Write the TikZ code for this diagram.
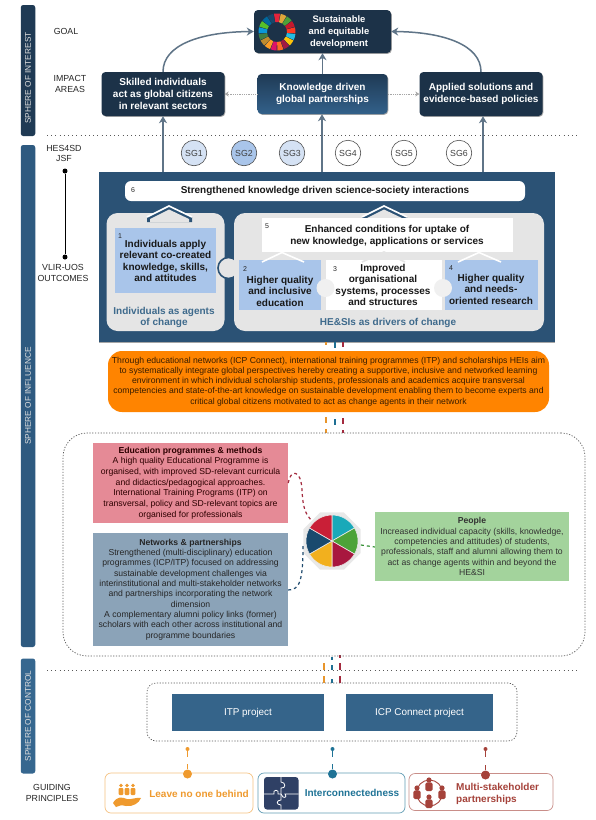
\documentclass[tikz,border=0pt]{standalone}
\usepackage{fontspec}
\setmainfont{Liberation Sans}
\usetikzlibrary{arrows.meta,shapes.geometric,calc}
\definecolor{darkbox}{HTML}{1C3248}
\definecolor{midtop}{HTML}{1F3A55}
\definecolor{midbot}{HTML}{33618A}
\definecolor{mainblue}{HTML}{2B5275}
\definecolor{barinterest}{HTML}{1F3A54}
\definecolor{barinfluence}{HTML}{2E5A80}
\definecolor{barcontrol}{HTML}{36678F}
\definecolor{projblue}{HTML}{35648A}
\definecolor{arrowgrey}{HTML}{5F7487}
\definecolor{paleblue}{HTML}{A9C5EA}
\definecolor{sgone}{HTML}{D5E2F4}
\definecolor{panel}{HTML}{E5E5E5}
\definecolor{pillorange}{HTML}{FF8400}
\definecolor{roseb}{HTML}{E58A96}
\definecolor{slateb}{HTML}{8BA3B8}
\definecolor{greenb}{HTML}{A3D39C}
\definecolor{gporange}{HTML}{EF9A2E}
\definecolor{gpteal}{HTML}{1F7396}
\definecolor{gpred}{HTML}{A5423A}
\definecolor{labelblue}{HTML}{3E6A8C}
\definecolor{fragorange}{HTML}{E8952B}
\definecolor{fragteal}{HTML}{1F6F93}
\definecolor{fragred}{HTML}{A32A3E}
\definecolor{puzzle}{HTML}{2F4065}
\definecolor{navyd}{HTML}{1F4A6E}
\tikzset{
  x=1pt,y=-1pt,
  lab/.style={font=\fontsize{8.8}{10.5}\selectfont,align=center,text=black!85,inner sep=0pt},
  spherebar/.style={rounded corners=2.5pt,anchor=center,inner sep=0pt,text=white!88!black,
     font=\fontsize{8.3}{10}\selectfont,rotate=90},
  impact/.style={draw=none,rounded corners=4pt,inner sep=0pt,align=center,text=white,
     font=\bfseries\fontsize{10}{11.6}\selectfont,
     preaction={fill=black!35,transform canvas={xshift=.8pt,yshift=-.8pt}}},
  flow/.style={draw=arrowgrey,line width=1.5pt,-{Stealth[length=7pt,width=8pt,inset=2.2pt]}},
  dotflow/.style={draw=black!35,line width=.8pt,densely dotted,-{Stealth[length=4pt,width=5pt]}},
  sg/.style={circle,draw=black!70,line width=.6pt,minimum size=25.5pt,inner sep=0pt,
     font=\fontsize{8.8}{10}\selectfont,text=black!75},
  ptext/.style={inner sep=0pt,align=center,font=\bfseries\fontsize{10}{11.5}\selectfont,text=black!90},
  num/.style={inner sep=0pt,font=\fontsize{7}{8}\selectfont,text=black!85},
  chev/.style={draw=white,line width=1.6pt,fill=none,line join=miter},
  sepdots/.style={draw=black!65,line width=.9pt,dash pattern=on 1pt off 3.2pt},
  dotframe/.style={draw=black!65,line width=.7pt,dash pattern=on 1.2pt off 1.6pt,rounded corners=14pt,inner sep=0pt},
  info/.style={inner sep=0pt,align=center,font=\fontsize{8.65}{10.3}\selectfont,text=black!80},
  gpbox/.style={rounded corners=6pt,line width=.7pt,fill=white,inner sep=0pt},
  gptext/.style={inner sep=0pt,font=\bfseries\fontsize{10}{12}\selectfont,align=left},
  gpdot/.style={circle,inner sep=0pt,minimum size=9pt},
}
\newcommand{\fragm}[5]{%
  \coordinate (#5a) at (#2,#3);\coordinate (#5b) at (#2,#4);
  \draw[#1,line width=1.3pt] (#5a) -- (#5b);}
\begin{document}
\begin{tikzpicture}
\useasboundingbox (0,0) rectangle (595,820);
\fill[white] (0,0) rectangle (595,820);

% sphere bars
\node[spherebar,fill=barinterest,minimum width=131pt,minimum height=14.5pt] (barI) at (28,70.5) {};
\node[spherebar,fill=none] (barIt) at (28,78) {SPHERE OF INTEREST};
\node[spherebar,fill=barinfluence,minimum width=502pt,minimum height=14.5pt] (barF) at (28,396) {SPHERE OF INFLUENCE};
\node[spherebar,fill=barcontrol,minimum width=115pt,minimum height=14.5pt] (barC) at (28,716) {SPHERE OF CONTROL};

% separators
\coordinate (sepAl) at (47,135); \coordinate (sepAr) at (580,135);
\coordinate (sepBl) at (47,670); \coordinate (sepBr) at (580,670);
\draw[sepdots] (sepAl) -- (sepAr);
\draw[sepdots] (sepBl) -- (sepBr);

% side labels
\node[lab] (lgoal) at (66,31) {GOAL};
\node[lab] (limpact) at (70,84) {IMPACT\\[0pt]AREAS};
\node[lab] (lhes) at (64,153.5) {HES4SD\\[0pt]JSF};
\node[lab] (lvlir) at (63,273) {VLIR-UOS\\[0pt]OUTCOMES};
\node[lab] (lguide) at (52,793) {GUIDING\\[0pt]PRINCIPLES};
\node[circle,fill=black,inner sep=0pt,minimum size=5pt] (ja) at (65,171) {};
\node[circle,fill=black,inner sep=0pt,minimum size=5pt] (jb) at (65,257) {};
\draw[line width=1pt] (ja) -- (jb);

% main outcome panel
\node[fill=mainblue,minimum width=456pt,minimum height=170pt,inner sep=0pt,
   preaction={fill=black!35,transform canvas={xshift=.8pt,yshift=-.8pt}}] (main) at (326.5,257) {};

% goal + impact
\node[impact,fill=darkbox,minimum width=137pt,minimum height=43pt] (goal) at (322.5,31.5) {};
\node[inner sep=0pt,align=center,text=white,font=\bfseries\fontsize{9.4}{11.6}\selectfont] (goalt) at (339,32) {Sustainable\\and equitable\\development};
\begin{scope}[shift={(277,32)}]
\foreach \c [count=\i from 0] in {E5243B,DDA63A,4C9F38,C5192D,FF3A21,26BDE2,FCC30B,A21942,FD6925,DD1367,FD9D24,BF8B2E,3F7E44,0A97D9,56C02B,00689D,19486A}{
  \definecolor{wheelc}{HTML}{\c}
  \pgfmathsetmacro{\aS}{-90-9.5+\i*21.176}
  \pgfmathsetmacro{\aE}{\aS+19}
  \fill[wheelc] (\aS:10) -- (\aS:18.5) arc[start angle=\aS,end angle=\aE,radius=18.5] -- (\aE:10) arc[start angle=\aE,end angle=\aS,radius=10] -- cycle;
}
\end{scope}

\node[impact,fill=darkbox,minimum width=123pt,minimum height=44pt] (impL) at (163,94) {Skilled individuals\\act as global citizens\\in relevant sectors};
\node[impact,top color=midtop,bottom color=midbot,minimum width=130pt,minimum height=40pt] (impM) at (322.5,94) {Knowledge driven\\global partnerships};
\node[impact,fill=darkbox,minimum width=123pt,minimum height=44pt] (impR) at (481,94) {Applied solutions and\\evidence-based policies};

% arrows
\coordinate (mL) at (163,172); \coordinate (mM) at (322,172); \coordinate (mR) at (483,172);
\draw[flow] (mL) -- (mL |- impL.south);
\draw[flow] (mM) -- (mM |- impM.south);
\draw[flow] (mR) -- (mR |- impR.south);
\draw[flow] (impM.north -| goal.south) -- (goal.south);
\draw[flow] (impL.north) .. controls (163,45) and (200,32) .. (goal.west);
\draw[flow] (impR.north) .. controls (481,45) and (444,32) .. (goal.east);
\draw[dotflow] (impM.west) -- (impL.east);
\draw[dotflow] (impM.east) -- (impR.west);

% SG circles
\node[sg,fill=sgone] (sg1) at (194,153) {SG1};
\node[sg,fill=paleblue] (sg2) at (244,153) {SG2};
\node[sg,fill=sgone] (sg3) at (292,153) {SG3};
\node[sg] (sg4) at (348,153) {SG4};
\node[sg] (sg5) at (404,153) {SG5};
\node[sg] (sg6) at (459,153) {SG6};

% white bar 6
\node[fill=white,rounded corners=6pt,minimum width=400pt,minimum height=20pt,inner sep=0pt] (six) at (325,191) {};
\node[ptext] (sixt) at (325,191) {Strengthened knowledge driven science-society interactions};
\node[num] (n6) at (133,190) {6};

% grey panels
\node[fill=panel,rounded corners=11pt,minimum width=118pt,minimum height=118pt,inner sep=0pt] (pL) at (165.5,272) {};
\draw[draw=mainblue,line width=1.6pt,fill=panel] (228.5,268) circle[radius=10.5];
\node[fill=panel,rounded corners=11pt,minimum width=310pt,minimum height=118pt,inner sep=0pt] (pR) at (389,272) {};

% chevrons to bar 6
\coordinate (c1a) at (147,217); \coordinate (c1b) at (169,206); \coordinate (c1c) at (192,217);
\coordinate (c2a) at (362,217); \coordinate (c2b) at (384,206); \coordinate (c2c) at (407,217);
\fill[mainblue] (c1a) -- (c1b) -- (c1c) -- (192,222) -- (147,222) -- cycle;
\fill[mainblue] (c2a) -- (c2b) -- (c2c) -- (407,222) -- (362,222) -- cycle;
\fill[panel] (150,219) -- (169,209.5) -- (189,219) -- (189,222) -- (150,222) -- cycle;
\fill[panel] (365,219) -- (384,209.5) -- (404,219) -- (404,222) -- (365,222) -- cycle;
\draw[chev] (c1a) -- (c1b) -- (c1c);
\draw[chev] (c2a) -- (c2b) -- (c2c);

% outcome boxes
\node[fill=paleblue,minimum width=101pt,minimum height=65pt,inner sep=0pt] (b1) at (165.5,260.5) {};
\node[ptext] (b1t) at (165.5,261) {Individuals apply\\relevant co-created\\knowledge, skills,\\and attitudes};
\node[fill=white,minimum width=251pt,minimum height=34pt,inner sep=0pt] (b5) at (387.5,235) {};
\node[ptext] (b5t) at (387,236) {Enhanced conditions for uptake of\\new knowledge, applications or services};
\node[fill=paleblue,minimum width=82pt,minimum height=50pt,inner sep=0pt] (b2) at (280,285) {};
\node[fill=white,minimum width=116pt,minimum height=50pt,inner sep=0pt] (b3) at (384,285) {};
\node[fill=paleblue,minimum width=93pt,minimum height=50pt,inner sep=0pt] (b4) at (491.5,285) {};
\node[ptext] (b2t) at (280,291) {Higher quality\\and inclusive\\education};
\node[ptext] (b3t) at (383,285) {Improved\\organisational\\systems, processes\\and structures};
\node[ptext] (b4t) at (491,289) {Higher quality\\and needs-\\oriented research};
% inner chevrons
\draw[draw=white,line width=1.6pt] (262,262) -- (282,252.5) -- (304,262);
\draw[draw=panel,line width=1.6pt] (362,262) -- (384,252) -- (405,262);
\draw[draw=white,line width=1.6pt] (458,262) -- (479,252.5) -- (501,262);
% junction circles
\fill[black!6] (325.5,288) circle[radius=9];
\fill[black!6] (443,288) circle[radius=9];
\node[num] (n1) at (120,236) {1};
\node[num] (n5) at (267,226) {5};
\node[num] (n2) at (245,269) {2};
\node[num] (n3) at (335,269) {3};
\node[num] (n4) at (451,268) {4};
\node[inner sep=0pt,align=center,text=labelblue,font=\bfseries\fontsize{10}{11.2}\selectfont] (agents) at (164,317.5) {Individuals as agents\\of change};
\node[inner sep=0pt,text=labelblue,font=\bfseries\fontsize{10}{11}\selectfont] (drivers) at (388,323) {HE\&SIs as drivers of change};

% orange pill
\node[fill=pillorange,rounded corners=14pt,minimum width=441pt,minimum height=61pt,inner sep=0pt] (pill) at (328.5,381.5) {};
\node[inner sep=0pt,align=center,text=black!78!pillorange,font=\fontsize{8.65}{10.2}\selectfont] (pillt) at (328.5,381.5) {Through educational networks (ICP Connect), international training programmes (ITP) and scholarships HEIs aim\\to systematically integrate global perspectives hereby creating a supportive, inclusive and networked learning\\environment in which individual scholarship students, professionals and academics acquire transversal\\competencies and state-of-the-art knowledge on sustainable development enabling them to become experts and\\critical global citizens motivated to act as change agents in their network};

% connector fragments
\fragm{fragorange}{326}{342}{345}{fa}
\fragm{fragteal}{335}{342}{348}{fb}
\fragm{fragred}{343}{342}{347}{fc}
\fragm{fragorange}{326}{417}{423}{fd}
\fragm{fragteal}{335}{419}{425}{fe}
\fragm{fragred}{343}{418}{424}{ff}
\fragm{fragorange}{326}{429}{433}{fg}
\fragm{fragred}{343}{430}{433}{fh}
\fragm{fragteal}{332}{657}{660}{fi}
\fragm{fragred}{340}{655}{658}{fj}
\fragm{fragorange}{324}{663}{670}{fk}
\fragm{fragteal}{332}{665}{670}{fl}
\fragm{fragred}{340}{663}{670}{fm}
\fragm{fragorange}{324}{676}{683}{fn}
\fragm{fragteal}{332}{679}{683}{fo}
\fragm{fragred}{340}{676}{683}{fp}

% dotted frame, influence
\node[dotframe,rounded corners=24pt,minimum width=522pt,minimum height=223pt] (frameF) at (324,544.5) {};

\node[fill=roseb,minimum width=195pt,minimum height=80pt,inner sep=0pt] (edu) at (190.5,483) {};
\node[info,text=black!78!red!80!black,font=\fontsize{8.65}{10.7}\selectfont] (edut) at (190.5,483) {\textbf{Education programmes \& methods}\\A high quality Educational Programme is\\organised, with improved SD-relevant curricula\\and didactics/pedagogical approaches.\\International Training Programs (ITP) on\\transversal, policy and SD-relevant topics are\\organised for professionals};
\node[fill=slateb,minimum width=195pt,minimum height=113pt,inner sep=0pt] (net) at (190.5,589.5) {};
\node[info,text=black!85] (nett) at (190.5,589.5) {\textbf{Networks \& partnerships}\\Strengthened (multi-disciplinary) education\\programmes (ICP/ITP) focused on addressing\\sustainable development challenges via\\interinstitutional and multi-stakeholder networks\\and partnerships incorporating the network\\dimension\\A complementary alumni policy links (former)\\scholars with each other across institutional and\\programme boundaries};
\node[fill=greenb,minimum width=194pt,minimum height=69pt,inner sep=0pt] (ppl) at (472,546.5) {};
\node[info,text=black!80] (pplt) at (472,546.5) {\textbf{People}\\Increased individual capacity (skills, knowledge,\\competencies and attitudes) of students,\\professionals, staff and alumni allowing them to\\act as change agents within and beyond the\\HE\&SI};

% pie
\node[regular polygon,regular polygon sides=8,fill=black!9,minimum size=62pt,inner sep=0pt] (pie) at (332,541) {};
\begin{scope}[shift={(332,541)}]
\foreach \col/\a in {19A9B9/-90,4CA338/-30,A8173F/30,F2B01E/90,1A4A6E/150,C91F37/210}{
  \definecolor{piec}{HTML}{\col}
  \pgfmathsetmacro{\b}{\a+60}
  \filldraw[fill=piec,draw=black!8,line width=.6pt] (0,0) -- (\a:26) arc[start angle=\a,end angle=\b,radius=26] -- cycle;
}
\end{scope}
\draw[fragred,line width=1.2pt,dashed] (edu.east |- 0,483) .. controls (290,470) and (301,468) .. (302,490) .. controls (303,510) and (306,514) .. (pie.135);
\draw[navyd,line width=1.2pt,dashed] (net.east |- 0,590) .. controls (300,590) and (303,580) .. (303,545);
\draw[green!45!black!80,line width=1.2pt,dashed] (pie.east |- 0,545) -- (ppl.west |- 0,547);

% control frame
\node[dotframe,rounded corners=9pt,minimum width=370pt,minimum height=58pt] (frameC) at (332,712) {};
\node[fill=projblue,minimum width=152pt,minimum height=37pt,inner sep=0pt,text=white,font=\fontsize{9.9}{10}\selectfont] (itp) at (248,712.5) {ITP project};
\node[fill=projblue,minimum width=147pt,minimum height=37pt,inner sep=0pt,text=white,font=\fontsize{9.9}{10}\selectfont] (icp) at (419.5,712.5) {ICP Connect project};

% guiding principles
\node[gpbox,draw=gporange!60,minimum width=148pt,minimum height=40pt] (gp1) at (179,793) {};
\node[gpbox,draw=gpteal!70,minimum width=147pt,minimum height=40pt] (gp2) at (331.5,793) {};
\node[gpbox,draw=gpred!60,minimum width=144pt,minimum height=37pt] (gp3) at (481,792) {};
\node[gpdot,fill=gporange] (d1) at (187.5,774) {};
\node[gpdot,fill=gpteal] (d2) at (332.5,774) {};
\node[gpdot,fill=gpred] (d3) at (485.5,775) {};
\coordinate (s1) at (187.5,764); \coordinate (s2) at (332.5,764); \coordinate (s3) at (485.5,765);
\draw[gporange,line width=1.2pt] (d1) -- (s1);
\draw[gpteal,line width=1.2pt] (d2) -- (s2);
\draw[gpred,line width=1.2pt] (d3) -- (s3);
\coordinate (t1a) at (187.5,749); \coordinate (t1b) at (187.5,757);
\coordinate (t2a) at (332.5,749); \coordinate (t2b) at (332.5,757);
\coordinate (t3a) at (485.5,749); \coordinate (t3b) at (485.5,757);
\draw[gporange,line width=1.2pt] (t1a) -- (t1b); \fill[gporange] (t1a) circle[radius=2];
\draw[gpteal,line width=1.2pt] (t2a) -- (t2b); \fill[gpteal] (t2a) circle[radius=2];
\draw[gpred,line width=1.2pt] (t3a) -- (t3b); \fill[gpred] (t3a) circle[radius=2];

\node[gptext,text=gporange] (g1t) at (199,794) {Leave no one behind};
\node[gptext,text=gpteal] (g2t) at (352,793) {Interconnectedness};
\node[gptext,text=gpred,anchor=west] (g3t) at (456,794) {Multi-stakeholder\\partnerships};

% hand icon
\foreach \px in {121,127,133}{
  \fill[gporange] (\px,785.5) circle[radius=1.9];
  \fill[gporange,rounded corners=1pt] (\px-2.3,788) rectangle (\px+2.3,795);
}
\fill[gporange] (113,803) .. controls (117,796) and (122,797) .. (127,799) .. controls (131,800) and (136,797) .. (141,798)
  .. controls (139,803) and (133,807) .. (126,806) .. controls (122,805) and (119,805) .. (116,807) -- cycle;

% puzzle icon
\fill[puzzle,rounded corners=3pt] (264,777) rectangle (298.5,809.5);
\draw[white,line width=.8pt] (264,794) -- (274,794) .. controls (272,789) and (280,789) .. (278,794) -- (281,794) .. controls (283,800) and (288,797) .. (285,794) -- (298.5,794);
\draw[white,line width=.8pt] (281,777) -- (281,782) .. controls (286,782) and (286,789) .. (281,788) -- (281,800) .. controls (276,800) and (276,805) .. (281,805) -- (281,809.5);

% people ring icon
\draw[gpred,line width=.9pt] (429.5,793) circle[radius=13];
\foreach \hx/\hy in {429/780,429/797,417/788,442/788}{
  \fill[gpred] (\hx,\hy) circle[radius=2.6];
  \fill[gpred,rounded corners=1.5pt] (\hx-3.6,\hy+2.4) rectangle (\hx+3.6,\hy+11);
}
\end{tikzpicture}
\end{document}
